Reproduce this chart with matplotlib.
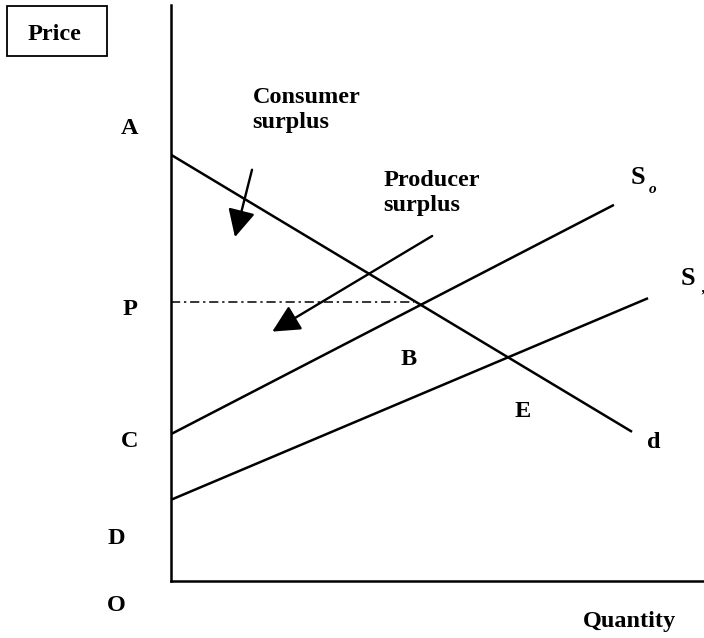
import matplotlib
matplotlib.use("Agg")
import matplotlib.pyplot as plt
from matplotlib.patches import FancyArrowPatch, Rectangle

plt.rcParams['font.family'] = ['Liberation Serif', 'DejaVu Serif']

# ---- data (abstract price/quantity units) ----
demand_q = [0.0, 8.65]
demand_p = [7.40, 2.59]
s0_q = [0.0, 8.31]
s0_p = [2.55, 6.53]
s1_q = [0.0, 8.95]
s1_p = [1.41, 4.91]
p_level = 4.85
p_line_q = [0.0, 4.55]

axis_labels = {'A': 7.86, 'P': 4.72, 'C': 2.43}

fig = plt.figure(figsize=(7.04, 6.38), dpi=100)
W, H = 704, 638
left, right, top, bottom = 171, 704, 5, 581
ax = fig.add_axes([left / W, (H - bottom) / H, (right - left) / W, (bottom - top) / H])
ax.set_xlim(0, 10)
ax.set_ylim(0, 10)
for s in ['top', 'right']:
    ax.spines[s].set_visible(False)
for s in ['left', 'bottom']:
    ax.spines[s].set_linewidth(1.8)
    ax.spines[s].set_color('black')
ax.set_xticks([])
ax.set_yticks([])

lw = 1.8
ax.plot(demand_q, demand_p, color='black', lw=lw, solid_capstyle='butt')
ax.plot(s0_q, s0_p, color='black', lw=lw, solid_capstyle='butt')
ax.plot(s1_q, s1_p, color='black', lw=lw, solid_capstyle='butt')
ax.plot(p_line_q, [p_level, p_level], color='black', lw=1.1, linestyle=(0, (6, 2.5, 1.5, 2.5)))

# arrows
def arrow(x0, y0, x1, y1):
    a = FancyArrowPatch((x0, y0), (x1, y1), arrowstyle='-|>,head_length=1.2,head_width=0.6',
                        mutation_scale=14, color='black', lw=1.7, shrinkA=0, shrinkB=0)
    ax.add_patch(a)

arrow(1.52, 7.14, 1.20, 5.97)
arrow(4.90, 5.99, 1.90, 4.33)

fs = 17.5
tk = dict(fontsize=fs, fontweight='bold', color='black', clip_on=False)

# left labels
for lab, y in axis_labels.items():
    ax.text(-0.77, y, lab, ha='center', va='center', **tk)
ax.text(-1.03, 0.73, 'D', ha='center', va='center', **tk)
ax.text(-1.02, -0.43, 'O', ha='center', va='center', **tk)

# Price box
fig.patches.append(Rectangle((7 / W, 1 - 56 / H), 100 / W, 50 / H, transform=fig.transFigure,
                             facecolor='white', edgecolor='black', lw=1.3))
fig.text(54 / W, 1 - 34 / H, 'Price', ha='center', va='center', fontsize=fs, fontweight='bold')

ax.text(1.53, 8.18, 'Consumer\nsurplus', ha='left', va='center', linespacing=1.25, **tk)
ax.text(3.99, 6.74, 'Producer\nsurplus', ha='left', va='center', linespacing=1.25, **tk)

ax.text(8.76, 7.00, 'S', ha='center', va='center', fontsize=19, fontweight='bold', clip_on=False)
ax.text(9.04, 6.79, 'o', ha='center', va='center', fontsize=11, fontweight='bold', style='italic', clip_on=False)
ax.text(9.70, 5.26, 'S', ha='center', va='center', fontsize=19, fontweight='bold', clip_on=False)
ax.text(9.99, 5.08, ',', ha='center', va='center', fontsize=11, fontweight='bold', style='italic', clip_on=False)

ax.text(4.46, 3.85, 'B', ha='center', va='center', **tk)
ax.text(6.60, 2.95, 'E', ha='center', va='center', **tk)
ax.text(9.06, 2.41, 'd', ha='center', va='center', **tk)
ax.text(8.60, -0.71, 'Quantity', ha='center', va='center', **tk)

fig.savefig('out.png', dpi=100, facecolor='white')
